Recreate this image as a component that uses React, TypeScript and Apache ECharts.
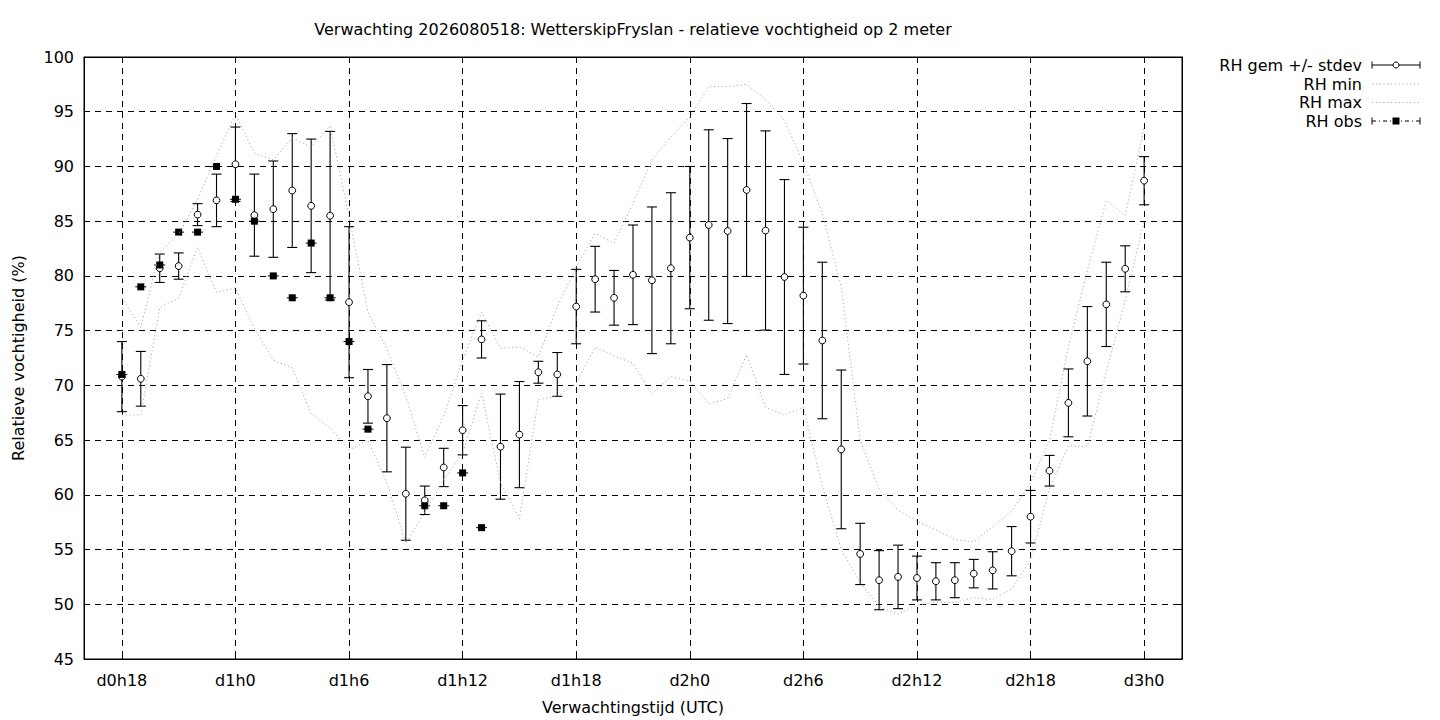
import React, { useEffect, useRef } from "react";
import * as echarts from "echarts";

// ---- data ----
const FIRST_HOUR = 16; // left edge of the time axis (hours since d0h0)
const LAST_HOUR = 74; // right edge of the time axis

const X_TICK_LABELS = ["d0h18", "d1h0", "d1h6", "d1h12", "d1h18", "d2h0", "d2h6", "d2h12", "d2h18", "d3h0"];

const Y_MIN = 45;
const Y_MAX = 100;
const Y_STEP = 5;

const HOURS = [
  18, 19, 20, 21, 22, 23, 24, 25, 26, 27,
  28, 29, 30, 31, 32, 33, 34, 35, 36, 37,
  38, 39, 40, 41, 42, 43, 44, 45, 46, 47,
  48, 49, 50, 51, 52, 53, 54, 55, 56, 57,
  58, 59, 60, 61, 62, 63, 64, 65, 66, 67,
  68, 69, 70, 71, 72,
];

const RH_MEAN = [
  70.8, 70.6, 80.7, 80.9, 85.6, 86.9, 90.2, 85.55, 86.1, 87.8,
  86.4, 85.5, 77.6, 69.0, 67.0, 60.1, 59.5, 62.5, 65.9, 74.2,
  64.4, 65.5, 71.2, 71.0, 77.2, 79.7, 78.0, 80.1, 79.6, 80.7,
  83.5, 84.65, 84.1, 87.85, 84.15, 79.9, 78.2, 74.1, 64.15, 54.6,
  52.2, 52.5, 52.4, 52.1, 52.2, 52.8, 53.1, 54.85, 58.0, 62.2,
  68.4, 72.2, 77.4, 80.65, 88.7,
];

const RH_SD = [
  3.2, 2.5, 1.3, 1.2, 1.0, 2.4, 3.4, 3.75, 4.4, 5.2,
  6.1, 7.7, 6.9, 2.45, 4.9, 4.25, 1.3, 1.75, 2.25, 1.7,
  4.8, 4.85, 1.0, 2.0, 3.4, 3.0, 2.5, 4.55, 6.7, 6.9,
  6.5, 8.7, 8.45, 7.9, 9.1, 8.9, 6.25, 7.15, 7.25, 2.8,
  2.7, 2.9, 2.0, 1.7, 1.6, 1.3, 1.7, 2.25, 2.4, 1.4,
  3.1, 5.0, 3.85, 2.1, 2.2,
];

const RH_MIN = [
  67.3, 67.3, 77.1, 78.0, 82.6, 78.5, 78.9, 75.2, 72.3, 71.6,
  67.4, 66.1, 64.1, 65.0, 61.1, 55.6, 58.4, 61.4, 63.8, 69.3,
  61.1, 57.8, 68.7, 69.0, 70.2, 73.5, 72.7, 72.0, 69.2, 70.8,
  70.4, 68.3, 68.8, 72.8, 68.0, 67.3, 68.0, 60.8, 55.0, 52.0,
  49.8, 49.1, 49.9, 50.2, 50.15, 50.6, 50.45, 51.4, 54.1, 60.5,
  64.5, 64.4, 71.2, 77.8, 85.0,
];

const RH_MAX = [
  78.0, 75.3, 82.2, 83.8, 87.0, 91.0, 94.8, 91.2, 90.6, 92.6,
  91.8, 93.7, 85.4, 76.7, 73.3, 69.0, 63.4, 67.2, 72.3, 76.7,
  73.4, 73.5, 72.6, 77.2, 80.8, 83.9, 83.0, 86.6, 90.6, 92.7,
  94.5, 97.3, 97.3, 97.5, 96.1, 94.2, 90.3, 85.7, 79.0, 65.0,
  60.5, 58.6, 57.6, 56.8, 55.9, 55.7, 57.1, 58.5, 61.1, 65.0,
  73.5, 80.5, 86.9, 85.5, 93.6,
];

const OBS_HOURS = [18, 19, 20, 21, 22, 23, 24, 25, 26, 27, 28, 29, 30, 31, 34, 35, 36, 37];
const RH_OBS = [71, 79, 81, 84, 84, 90, 87, 85, 80, 78, 83, 78, 74, 66, 59, 59, 62, 57];

const TITLE = "Verwachting 2026080518: WetterskipFryslan - relatieve vochtigheid op 2 meter";
const X_NAME = "Verwachtingstijd (UTC)";
const Y_NAME = "Relatieve vochtigheid (%)";
const LEGEND = ["RH gem +/- stdev", "RH min", "RH max", "RH obs"];

// ---- helpers ----
const FONT = '"DejaVu Sans", "Liberation Sans", sans-serif';
const FS = 16;

const CATEGORIES: string[] = [];
for (let h = FIRST_HOUR; h <= LAST_HOUR; h++) {
  CATEGORIES.push(`d${Math.floor(h / 24)}h${h % 24}`);
}
const idx = (h: number) => h - FIRST_HOUR;
const isTick = (_i: number, v: string) => X_TICK_LABELS.indexOf(v) >= 0;

const GRID = { left: 84, top: 57, width: 1098, height: 602 };
const GRID_LINE = { color: "#000", width: 1, type: [6, 5] as number[] };
const MINMAX_LINE = { color: "#aaaaaa", width: 1, type: [1.2, 2.6] as number[] };

function buildOption(): any {
  const meanData = HOURS.map((h, i) => [idx(h), RH_MEAN[i], RH_SD[i]]);
  const minData = HOURS.map((h, i) => [idx(h), RH_MIN[i]]);
  const maxData = HOURS.map((h, i) => [idx(h), RH_MAX[i]]);
  const obsData = OBS_HOURS.map((h, i) => [idx(h), RH_OBS[i]]);

  const LX1 = 1372;
  const LX2 = 1420;
  const LXM = (LX1 + LX2) / 2;
  const LTX = 1362;
  const rows = [65, 84, 102.5, 121];

  const legendGraphics: any[] = [];
  LEGEND.forEach((name, i) => {
    legendGraphics.push({
      type: "text",
      x: LTX,
      y: rows[i],
      style: {
        text: name,
        fill: "#000",
        fontSize: FS,
        fontFamily: FONT,
        align: "right",
        verticalAlign: "middle",
        textAlign: "right",
        textVerticalAlign: "middle",
      },
    });
  });
  legendGraphics.push(
    { type: "line", shape: { x1: LX1, y1: rows[0], x2: LX2, y2: rows[0] }, style: { stroke: "#000", lineWidth: 1 } },
    { type: "line", shape: { x1: LX1, y1: rows[0] - 3.5, x2: LX1, y2: rows[0] + 3.5 }, style: { stroke: "#000", lineWidth: 1 } },
    { type: "line", shape: { x1: LX2, y1: rows[0] - 3.5, x2: LX2, y2: rows[0] + 3.5 }, style: { stroke: "#000", lineWidth: 1 } },
    { type: "circle", shape: { cx: LXM, cy: rows[0], r: 3 }, style: { fill: "#fff", stroke: "#000", lineWidth: 1 } },
    { type: "line", shape: { x1: LX1, y1: rows[1], x2: LX2, y2: rows[1] }, style: { stroke: MINMAX_LINE.color, lineWidth: 1, lineDash: MINMAX_LINE.type } },
    { type: "line", shape: { x1: LX1, y1: rows[2], x2: LX2, y2: rows[2] }, style: { stroke: MINMAX_LINE.color, lineWidth: 1, lineDash: MINMAX_LINE.type } },
    { type: "line", shape: { x1: LX1, y1: rows[3], x2: LX2, y2: rows[3] }, style: { stroke: "#000", lineWidth: 1, lineDash: [4, 3, 1, 3] } },
    { type: "line", shape: { x1: LX1, y1: rows[3] - 3.5, x2: LX1, y2: rows[3] + 3.5 }, style: { stroke: "#000", lineWidth: 1 } },
    { type: "line", shape: { x1: LX2, y1: rows[3] - 3.5, x2: LX2, y2: rows[3] + 3.5 }, style: { stroke: "#000", lineWidth: 1 } },
    { type: "rect", shape: { x: LXM - 3.5, y: rows[3] - 3.5, width: 7, height: 7 }, style: { fill: "#000" } }
  );

  const textStyle = (text: string) => ({
    text,
    fill: "#000",
    fontSize: FS,
    fontFamily: FONT,
    align: "center",
    verticalAlign: "middle",
    textAlign: "center",
    textVerticalAlign: "middle",
  });

  const cx = GRID.left + GRID.width / 2;
  const cy = GRID.top + GRID.height / 2;

  return {
    animation: false,
    backgroundColor: "#fff",
    textStyle: { fontFamily: FONT, color: "#000" },
    grid: { ...GRID, show: true, borderColor: "#000", borderWidth: 1, backgroundColor: "transparent" },
    xAxis: [
      {
        type: "category",
        data: CATEGORIES,
        boundaryGap: false,
        position: "bottom",
        axisLine: { show: true, lineStyle: { color: "#000", width: 1 } },
        axisTick: { show: true, inside: true, length: 6, interval: isTick, lineStyle: { color: "#000" } },
        axisLabel: { interval: isTick, color: "#000", fontSize: FS, fontFamily: FONT, margin: 13 },
        splitLine: { show: true, interval: isTick, lineStyle: GRID_LINE },
      },
      {
        type: "category",
        data: CATEGORIES,
        boundaryGap: false,
        position: "top",
        axisLine: { show: true, lineStyle: { color: "#000", width: 1 } },
        axisTick: { show: true, inside: true, length: 6, interval: isTick, lineStyle: { color: "#000" } },
        axisLabel: { show: false },
        splitLine: { show: false },
      },
    ],
    yAxis: [
      {
        type: "value",
        min: Y_MIN,
        max: Y_MAX,
        interval: Y_STEP,
        position: "left",
        axisLine: { show: true, lineStyle: { color: "#000", width: 1 } },
        axisTick: { show: true, inside: true, length: 6, lineStyle: { color: "#000" } },
        axisLabel: { color: "#000", fontSize: FS, fontFamily: FONT, margin: 10 },
        splitLine: { show: true, lineStyle: GRID_LINE },
      },
      {
        type: "value",
        min: Y_MIN,
        max: Y_MAX,
        interval: Y_STEP,
        position: "right",
        axisLine: { show: true, lineStyle: { color: "#000", width: 1 } },
        axisTick: { show: true, inside: true, length: 6, lineStyle: { color: "#000" } },
        axisLabel: { show: false },
        splitLine: { show: false },
      },
    ],
    graphic: [
      { type: "text", x: cx, y: 29, style: textStyle(TITLE) },
      { type: "text", x: cx, y: 707, style: textStyle(X_NAME) },
      { type: "text", x: 18, y: cy, rotation: Math.PI / 2, style: textStyle(Y_NAME) },
      ...legendGraphics,
    ],
    series: [
      {
        name: LEGEND[0],
        type: "custom",
        xAxisIndex: 0,
        yAxisIndex: 0,
        data: meanData,
        encode: { x: 0, y: 1 },
        clip: true,
        renderItem: (_params: any, api: any) => {
          const x = api.value(0);
          const m = api.value(1);
          const s = api.value(2);
          const top = api.coord([x, m + s]);
          const bot = api.coord([x, m - s]);
          const mid = api.coord([x, m]);
          const hw = 5;
          const st = { stroke: "#000", lineWidth: 1.1 };
          return {
            type: "group",
            children: [
              { type: "line", shape: { x1: top[0], y1: top[1], x2: bot[0], y2: bot[1] }, style: st },
              { type: "line", shape: { x1: top[0] - hw, y1: top[1], x2: top[0] + hw, y2: top[1] }, style: st },
              { type: "line", shape: { x1: bot[0] - hw, y1: bot[1], x2: bot[0] + hw, y2: bot[1] }, style: st },
              { type: "circle", shape: { cx: mid[0], cy: mid[1], r: 3.4 }, style: { fill: "#fff", stroke: "#000", lineWidth: 1 } },
            ],
          };
        },
      },
      {
        name: LEGEND[1],
        type: "line",
        data: minData,
        symbol: "none",
        lineStyle: MINMAX_LINE,
        silent: true,
      },
      {
        name: LEGEND[2],
        type: "line",
        data: maxData,
        symbol: "none",
        lineStyle: MINMAX_LINE,
        silent: true,
      },
      {
        name: LEGEND[3],
        type: "custom",
        data: obsData,
        encode: { x: 0, y: 1 },
        renderItem: (_params: any, api: any) => {
          const p = api.coord([api.value(0), api.value(1)]);
          return {
            type: "group",
            children: [
              { type: "line", shape: { x1: p[0] - 5.5, y1: p[1], x2: p[0] + 5.5, y2: p[1] }, style: { stroke: "#000", lineWidth: 1 } },
              { type: "rect", shape: { x: p[0] - 3.5, y: p[1] - 3.5, width: 7, height: 7 }, style: { fill: "#000" } },
            ],
          };
        },
      },
    ],
  };
}

export default function App() {
  const ref = useRef<HTMLDivElement>(null);
  useEffect(() => {
    document.body.style.margin = "0";
    if (!ref.current) return;
    const chart = echarts.init(ref.current, undefined, { renderer: "svg" });
    chart.setOption(buildOption());
    return () => chart.dispose();
  }, []);
  return <div ref={ref} style={{ width: 1440, height: 720 }} />;
}
